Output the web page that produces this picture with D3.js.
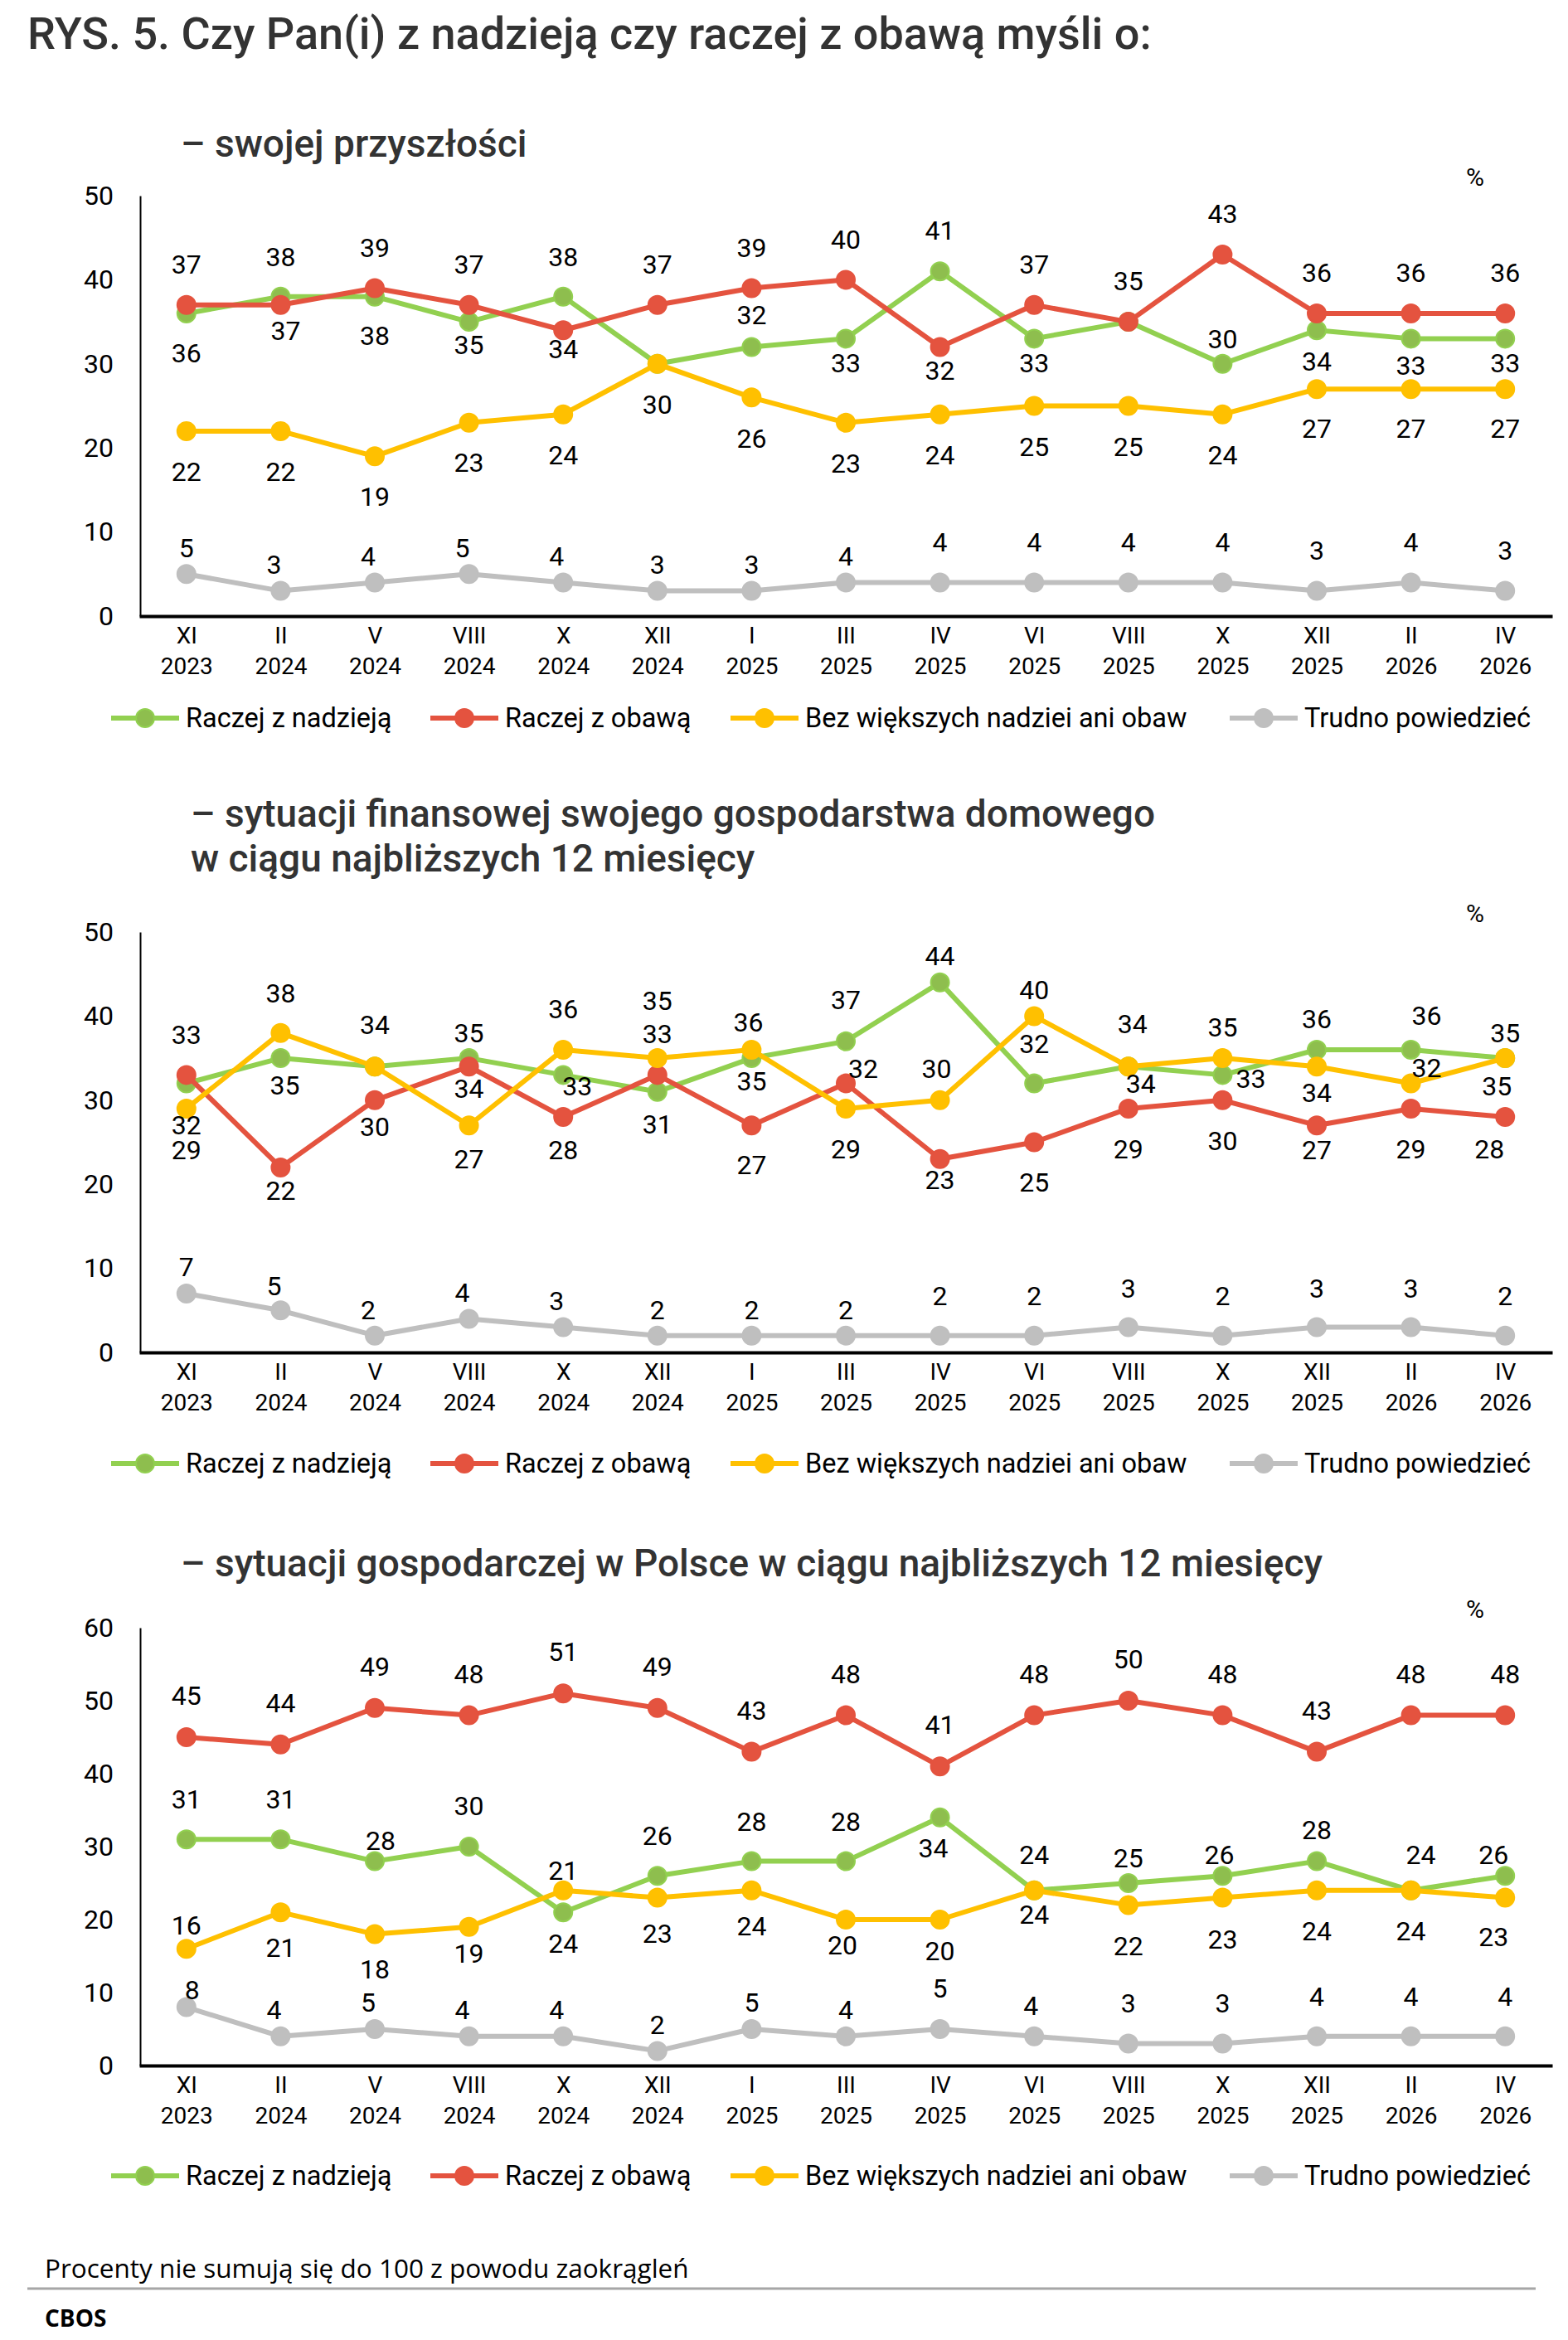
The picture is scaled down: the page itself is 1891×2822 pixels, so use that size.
<!DOCTYPE html>
<html>
<head>
<meta charset="utf-8">
<script src="https://cdn.jsdelivr.net/npm/d3@7"></script>
<style>
  html, body { margin: 0; padding: 0; background: #fff; }
  svg { display: block; }
</style>
</head>
<body>
<script>
// ---------- DATA ----------
const months = ["XI","II","V","VIII","X","XII","I","III","IV","VI","VIII","X","XII","II","IV"];
const years  = ["2023","2024","2024","2024","2024","2024","2025","2025","2025","2025","2025","2025","2025","2026","2026"];
const seriesNames = ["Raczej z nadzieją","Raczej z obawą","Bez większych nadziei ani obaw","Trudno powiedzieć"];

const title = "RYS. 5. Czy Pan(i) z nadzieją czy raczej z obawą myśli o:";
const subtitle1 = ["– swojej przyszłości"];
const subtitle2 = ["– sytuacji finansowej swojego gospodarstwa domowego", "w ciągu najbliższych 12 miesięcy"];
const subtitle3 = ["– sytuacji gospodarczej w Polsce w ciągu najbliższych 12 miesięcy"];
const footnote = "Procenty nie sumują się do 100 z powodu zaokrągleń";
const source = "CBOS";

// Chart 1 – swojej przyszłości
const c1Hope    = [36,38,38,35,38,30,32,33,41,33,35,30,34,33,33];
const c1Fear    = [37,37,39,37,34,37,39,40,32,37,35,43,36,36,36];
const c1Neutral = [22,22,19,23,24,30,26,23,24,25,25,24,27,27,27];
const c1Unsure  = [5,3,4,5,4,3,3,4,4,4,4,4,3,4,3];
const c1Ticks   = [0,10,20,30,40,50];

// Chart 2 – sytuacji finansowej gospodarstwa domowego
const c2Hope    = [32,35,34,35,33,31,35,37,44,32,34,33,36,36,35];
const c2Fear    = [33,22,30,34,28,33,27,32,23,25,29,30,27,29,28];
const c2Neutral = [29,38,34,27,36,35,36,29,30,40,34,35,34,32,35];
const c2Unsure  = [7,5,2,4,3,2,2,2,2,2,3,2,3,3,2];
const c2Ticks   = [0,10,20,30,40,50];

// Chart 3 – sytuacji gospodarczej w Polsce
const c3Hope    = [31,31,28,30,21,26,28,28,34,24,25,26,28,24,26];
const c3Fear    = [45,44,49,48,51,49,43,48,41,48,50,48,43,48,48];
const c3Neutral = [16,21,18,19,24,23,24,20,20,24,22,23,24,24,23];
const c3Unsure  = [8,4,5,4,4,2,5,4,5,4,3,3,4,4,4];
const c3Ticks   = [0,10,20,30,40,50,60];

// ---------- LAYOUT / STYLE (label placement relative to points) ----------
const colors = ["#92D050","#E4533F","#FFC000","#BFBFBF"];
const markerFill = ["#8EBE4E","#E4533F","#FFC000","#BFBFBF"];

const c1LabelDy = [
  [48,-48,47,28,-48,null,-39,29,-49,29,null,-30,38,32,29],
  [-49,31,-49,-49,23,-49,-49,-49,28,-49,-49,-49,-49,-49,-49],
  [49,49,48,48,49,49,49,49,49,49,49,49,48,48,48],
  [-32,-32,-32,-32,-32,-32,-32,-32,-49,-49,-49,-49,-49,-49,-49]
];
const c1LabelDx = [
  [0,0,0,0,0,0,0,0,0,0,0,0,0,0,0],
  [0,6,0,0,0,0,0,0,0,0,0,0,0,0,0],
  [0,0,0,0,0,0,0,0,0,0,0,0,0,0,0],
  [0,-8,-8,-8,-8,0,0,0,0,0,0,0,0,0,0]
];
const c2LabelDy = [
  [50,33,-50,-30,13,39,28,-50,-32,-48,-51,4,-37,-41,-30],
  [-49,28,32,27,40,-50,48,-18,25,48,49,49,30,49,39],
  [50,-48,null,41,-49,-69,-33,49,-38,-32,21,-37,32,-19,34],
  [-32,-30,-31,-32,-32,-31,-31,-31,-48,-48,-47,-48,-47,-47,-48]
];
const c2LabelDx = [
  [0,5,0,0,17,0,0,0,0,0,5,34,0,19,0],
  [0,0,0,0,0,0,0,21,0,0,0,0,0,0,-19],
  [0,0,0,0,0,0,-4,0,-4,0,15,0,0,19,-10],
  [0,-8,-8,-8,-8,0,0,0,0,0,0,0,0,0,0]
];
const c3LabelDy = [
  [-48,-48,-25,-49,-50,-48,-48,-48,37,-43,-30,-25,-38,-43,-25],
  [-50,-50,-50,-50,-50,-50,-50,-50,-50,-50,-50,-50,-50,-50,-50],
  [-28,43,42,32,64,43,43,31,38,29,49,50,49,49,47],
  [-21,-32,-32,-32,-32,-32,-32,-32,-49,-37,-49,-49,-48,-48,-48]
];
const c3LabelDx = [
  [0,0,7,0,0,0,0,0,-8,0,0,-4,0,12,-14],
  [0,0,0,0,0,0,0,0,0,0,0,0,0,0,0],
  [0,0,0,0,0,0,0,-4,0,0,0,0,0,0,-14],
  [7,-8,-8,-8,-8,0,0,0,0,-4,0,0,0,0,0]
];

const charts = [
  { sub: subtitle1, subX: 218, subY: 189, top: 236, base: 743, max: 50, ticks: c1Ticks,
    series: [c1Hope, c1Fear, c1Neutral, c1Unsure], dy: c1LabelDy, dx: c1LabelDx, legendY: 866 },
  { sub: subtitle2, subX: 230, subY: 997, top: 1124, base: 1631, max: 50, ticks: c2Ticks,
    series: [c2Hope, c2Fear, c2Neutral, c2Unsure], dy: c2LabelDy, dx: c2LabelDx, legendY: 1765 },
  { sub: subtitle3, subX: 218, subY: 1901, top: 1963, base: 2491, max: 60, ticks: c3Ticks,
    series: [c3Hope, c3Fear, c3Neutral, c3Unsure], dy: c3LabelDy, dx: c3LabelDx, legendY: 2624 }
];

const W = 1891, H = 2822;
const FONT = "Roboto, 'Noto Sans', Arial, sans-serif";

const svg = d3.select("body").append("svg")
  .attr("width", W).attr("height", H)
  .attr("viewBox", `0 0 ${W} ${H}`);
svg.append("rect").attr("width", W).attr("height", H).attr("fill", "#fff");

svg.append("text")
  .attr("x", 33).attr("y", 59)
  .attr("font-family", FONT).attr("font-size", 54).attr("font-weight", 500)
  .attr("fill", "#333")
  .text(title);

const x = d3.scalePoint().domain(d3.range(months.length)).range([168, 1872]).padding(0.5);

const legendX = [134, 519, 881, 1483];

charts.forEach(cfg => {
  const g = svg.append("g");
  const y = d3.scaleLinear().domain([0, cfg.max]).range([cfg.base, cfg.top]);

  // subtitle
  cfg.sub.forEach((line, i) => {
    g.append("text")
      .attr("x", cfg.subX).attr("y", cfg.subY + i * 54)
      .attr("font-family", FONT).attr("font-size", 46).attr("font-weight", 500)
      .attr("fill", "#333")
      .text(line);
  });

  // percent sign
  g.append("text")
    .attr("x", 1779).attr("y", cfg.top - 12)
    .attr("text-anchor", "middle")
    .attr("font-family", FONT).attr("font-size", 30)
    .attr("fill", "#000")
    .text("%");

  // y axis
  const yAxis = g.append("g")
    .attr("transform", `translate(169,0)`)
    .call(d3.axisLeft(y).tickValues(cfg.ticks).tickSize(0).tickPadding(32).tickFormat(d3.format("d")));
  yAxis.select(".domain").attr("stroke", "#000").attr("stroke-width", 2);
  yAxis.selectAll("text").attr("font-family", FONT).attr("font-size", 32).attr("fill", "#000");

  // x axis
  const xAxis = g.append("g")
    .attr("transform", `translate(0,${cfg.base})`)
    .call(d3.axisBottom(x).tickSize(0).tickPadding(0).tickFormat(""));
  xAxis.select(".domain").attr("stroke", "#000").attr("stroke-width", 4);
  xAxis.selectAll(".tick text").each(function(d) {
    const t = d3.select(this);
    t.attr("font-family", FONT).attr("font-size", 28).attr("fill", "#000").attr("y", 0).attr("dy", null);
    t.append("tspan").attr("x", 0).attr("y", 33).text(months[d]);
    t.append("tspan").attr("x", 0).attr("y", 70).text(years[d]);
  });

  // lines + markers
  const line = d3.line().x((d, i) => x(i)).y(d => y(d));
  cfg.series.forEach((vals, s) => {
    g.append("path")
      .datum(vals)
      .attr("d", line)
      .attr("fill", "none")
      .attr("stroke", colors[s])
      .attr("stroke-width", 6)
      .attr("stroke-linejoin", "round");
    g.selectAll(null)
      .data(vals)
      .join("circle")
      .attr("cx", (d, i) => x(i))
      .attr("cy", d => y(d))
      .attr("r", 11)
      .attr("fill", markerFill[s])
      .attr("stroke", colors[s])
      .attr("stroke-width", 2);
  });

  // data labels
  cfg.series.forEach((vals, s) => {
    g.selectAll(null)
      .data(vals.map((v, i) => ({ v, i })).filter(o => cfg.dy[s][o.i] !== null))
      .join("text")
      .attr("x", o => x(o.i) + cfg.dx[s][o.i])
      .attr("y", o => y(o.v) + cfg.dy[s][o.i])
      .attr("dy", "0.35em")
      .attr("text-anchor", "middle")
      .attr("font-family", FONT).attr("font-size", 32)
      .attr("fill", "#000")
      .text(o => o.v);
  });

  // legend
  const lg = g.append("g");
  seriesNames.forEach((name, s) => {
    const lx = legendX[s];
    lg.append("line")
      .attr("x1", lx).attr("x2", lx + 82)
      .attr("y1", cfg.legendY).attr("y2", cfg.legendY)
      .attr("stroke", colors[s]).attr("stroke-width", 6);
    lg.append("circle")
      .attr("cx", lx + 41).attr("cy", cfg.legendY).attr("r", 11)
      .attr("fill", markerFill[s]).attr("stroke", colors[s]).attr("stroke-width", 2);
    lg.append("text")
      .attr("x", lx + 90).attr("y", cfg.legendY)
      .attr("dy", "0.35em")
      .attr("font-family", FONT).attr("font-size", 32.5)
      .attr("fill", "#000")
      .text(name);
  });
});

// footnote, rule, source
svg.append("text")
  .attr("x", 54).attr("y", 2747)
  .attr("font-family", "'Open Sans', 'Noto Sans', sans-serif").attr("font-size", 31.5)
  .attr("fill", "#000")
  .text(footnote);
svg.append("line")
  .attr("x1", 33).attr("x2", 1852).attr("y1", 2760).attr("y2", 2760)
  .attr("stroke", "#A6A6A6").attr("stroke-width", 3);
svg.append("text")
  .attr("x", 54).attr("y", 2806)
  .attr("font-family", "'Open Sans', 'Noto Sans', sans-serif").attr("font-size", 28).attr("font-weight", 700)
  .attr("fill", "#000")
  .text(source);
</script>
</body>
</html>
